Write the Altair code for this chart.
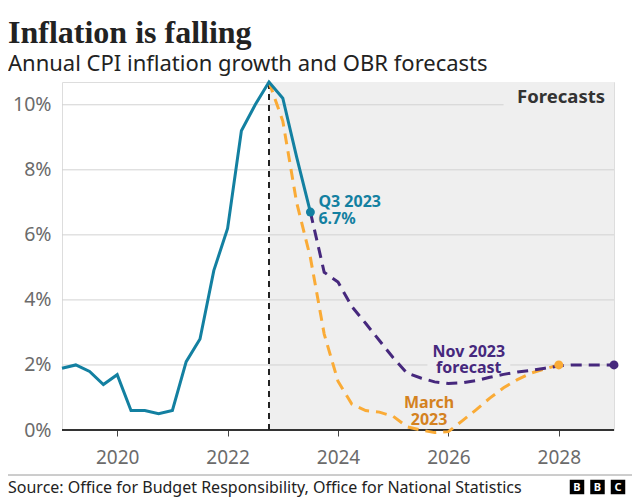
import altair as alt
import pandas as pd

# ---------------- data ----------------
actual_quarters = ["2019 Q1", "2019 Q2", "2019 Q3", "2019 Q4",
                   "2020 Q1", "2020 Q2", "2020 Q3", "2020 Q4",
                   "2021 Q1", "2021 Q2", "2021 Q3", "2021 Q4",
                   "2022 Q1", "2022 Q2", "2022 Q3", "2022 Q4",
                   "2023 Q1", "2023 Q2", "2023 Q3"]
actual_cpi = [1.9, 2.0, 1.8, 1.4,
              1.7, 0.6, 0.6, 0.5,
              0.6, 2.1, 2.8, 4.9,
              6.2, 9.2, 10.0, 10.7,
              10.2, 8.4, 6.7]

march_quarters = ["2022 Q4",
                  "2023 Q1", "2023 Q2", "2023 Q3", "2023 Q4",
                  "2024 Q1", "2024 Q2", "2024 Q3", "2024 Q4",
                  "2025 Q1", "2025 Q2", "2025 Q3", "2025 Q4",
                  "2026 Q1", "2026 Q2", "2026 Q3", "2026 Q4",
                  "2027 Q1", "2027 Q2", "2027 Q3", "2027 Q4",
                  "2028 Q1"]
march_cpi = [10.7,
             9.5, 7.0, 5.3, 2.95,
             1.5, 0.8, 0.6, 0.55,
             0.42, 0.1, 0.0, -0.08,
             -0.05, 0.28, 0.62, 0.98,
             1.3, 1.55, 1.75, 1.88,
             2.0]

nov_quarters = ["2023 Q3", "2023 Q4",
                "2024 Q1", "2024 Q2", "2024 Q3", "2024 Q4",
                "2025 Q1", "2025 Q2", "2025 Q3", "2025 Q4",
                "2026 Q1", "2026 Q2", "2026 Q3", "2026 Q4",
                "2027 Q1", "2027 Q2", "2027 Q3", "2027 Q4",
                "2028 Q1", "2028 Q2", "2028 Q3", "2028 Q4",
                "2029 Q1"]
nov_cpi = [6.7, 4.85,
           4.55, 3.8, 3.28, 2.75,
           2.22, 1.75, 1.6, 1.48,
           1.43, 1.45, 1.52, 1.62,
           1.71, 1.78, 1.83, 1.9,
           1.97, 2.0, 2.0, 2.0,
           2.0]

x_ticks = [2020, 2022, 2024, 2026, 2028]
y_ticks = [0, 2, 4, 6, 8, 10]
grid_values = [2, 4, 6, 8, 10]

title_text = "Inflation is falling"
subtitle_text = "Annual CPI inflation growth and OBR forecasts"
source_text = "Source: Office for Budget Responsibility, Office for National Statistics"
logo_letters = ["B", "B", "C"]


def qx(label):
    y, q = label.split(" Q")
    return int(y) + (int(q) - 1) / 4


X_MIN, X_MAX = 2019, 2029
Y_MAX = 10.7

TEAL = "#1380A1"
PURPLE = "#46287d"
ORANGE = "#FAAB36"
ORANGE_TEXT = "#D4821F"
SHADE = "#efefef"
FONT = "Noto Sans"
LABEL_GREY = "#6b6b6b"

actual = pd.DataFrame({"x": [qx(q) for q in actual_quarters], "y": actual_cpi})
march = pd.DataFrame({"x": [qx(q) for q in march_quarters], "y": march_cpi})
nov = pd.DataFrame({"x": [qx(q) for q in nov_quarters], "y": nov_cpi})

forecast_start = qx(march_quarters[0])

xscale = alt.Scale(domain=[X_MIN, X_MAX], nice=False, zero=False)
yscale = alt.Scale(domain=[0, Y_MAX], nice=False, zero=False)

X = lambda f="x": alt.X(f"{f}:Q", scale=xscale, title=None,
                        axis=alt.Axis(values=x_ticks, format="d", grid=False, domain=False,
                                      ticks=True, tickColor="#444", tickSize=6, tickWidth=1,
                                      labelFontSize=19, labelColor=LABEL_GREY, labelFont=FONT,
                                      labelPadding=12))
Y = lambda f="y": alt.Y(f"{f}:Q", scale=yscale, title=None,
                        axis=alt.Axis(values=y_ticks, grid=False, domain=False, ticks=False,
                                      labelExpr="datum.value + '%'",
                                      labelFontSize=19.5, labelColor=LABEL_GREY, labelFont=FONT,
                                      labelPadding=11))

# forecast shading
shade = alt.Chart(pd.DataFrame({"x": [forecast_start], "x2": [X_MAX], "y": [0], "y2": [Y_MAX]})).mark_rect(
    color=SHADE).encode(x=X(), x2="x2:Q", y=Y(), y2="y2:Q")

grid = alt.Chart(pd.DataFrame({"y": grid_values})).mark_rule(color="#d2d2d2", strokeWidth=1).encode(
    y=Y())

# label backgrounds (hide gridline behind text)
bg = alt.Chart(pd.DataFrame({"x": [2027.0, 2025.62], "x2": [X_MAX, 2027.12],
                             "y": [9.6, 1.85], "y2": [Y_MAX, 2.7]})).mark_rect(color=SHADE).encode(
    x=X(), x2="x2:Q", y=Y(), y2="y2:Q")

zero = alt.Chart(pd.DataFrame({"y": [0]})).mark_rule(color="#333", strokeWidth=2).encode(y=Y())

vline = alt.Chart(pd.DataFrame({"x": [forecast_start], "y": [0], "y2": [Y_MAX]})).mark_rule(
    color="#222", strokeWidth=2, strokeDash=[6, 5]).encode(x=X(), y=Y(), y2="y2:Q")

march_line = alt.Chart(march).mark_line(color=ORANGE, strokeWidth=3, strokeDash=[11, 7]).encode(
    x=X(), y=Y())
nov_line = alt.Chart(nov).mark_line(color=PURPLE, strokeWidth=3, strokeDash=[11, 7]).encode(
    x=X(), y=Y())
actual_line = alt.Chart(actual).mark_line(color=TEAL, strokeWidth=3).encode(x=X(), y=Y())

dots = alt.Chart(pd.DataFrame({
    "x": [nov["x"].iloc[-1], march["x"].iloc[-1], actual["x"].iloc[-1]],
    "y": [nov["y"].iloc[-1], march["y"].iloc[-1], actual["y"].iloc[-1]],
    "c": [PURPLE, ORANGE, TEAL]})).mark_circle(size=80, opacity=1).encode(
    x=X(), y=Y(), color=alt.Color("c:N", scale=None))

forecast_label = alt.Chart(pd.DataFrame({"x": [X_MAX], "y": [Y_MAX], "t": ["Forecasts"]})).mark_text(
    align="right", baseline="alphabetic", dx=-9, dy=21, fontSize=18.5, fontWeight="bold",
    font=FONT, color="#333").encode(x=X(), y=Y(), text="t:N")

q3_label = alt.Chart(pd.DataFrame({"x": [actual["x"].iloc[-1]], "y": [actual["y"].iloc[-1]],
                                   "t": [["Q3 2023", f"{actual_cpi[-1]}%"]]})).mark_text(
    align="left", baseline="alphabetic", dx=8, dy=-5, lineHeight=17, fontSize=16, fontWeight="bold",
    font=FONT, color=TEAL).encode(x=X(), y=Y(), text="t")

nov_label = alt.Chart(pd.DataFrame({"x": [2026.37], "y": [2.0],
                                    "t": [["Nov 2023", "forecast"]]})).mark_text(
    align="center", baseline="alphabetic", dy=-8, lineHeight=16.5, fontSize=16, fontWeight="bold",
    font=FONT, color=PURPLE).encode(x=X(), y=Y(), text="t")

march_label = alt.Chart(pd.DataFrame({"x": [2025.65], "y": [0.0],
                                      "t": [["March", "2023"]]})).mark_text(
    align="center", baseline="alphabetic", dy=-22, lineHeight=16.5, fontSize=16, fontWeight="bold",
    font=FONT, color=ORANGE_TEXT).encode(x=X(), y=Y(), text="t")

# footer
footer_rule = alt.Chart(pd.DataFrame({"a": [0]})).mark_rule(color="#9a9a9a", strokeWidth=1).encode(
    x=alt.value(-54), x2=alt.value(570), y=alt.value(393))
footer_text = alt.Chart(pd.DataFrame({"t": [source_text]})).mark_text(
    align="left", baseline="alphabetic", fontSize=16, font=FONT, color="#222").encode(
    x=alt.value(-54), y=alt.value(411), text="t:N")
logo_df = pd.DataFrame({"letter": logo_letters, "i": list(range(len(logo_letters)))})
logo_df["px"] = 515 + 20.5 * logo_df["i"]
logo_box = alt.Chart(logo_df).mark_square(size=210, color="#000", opacity=1, shape="square").encode(
    x=alt.X("px:Q", scale=None), y=alt.value(405))
logo_txt = alt.Chart(logo_df).mark_text(fontSize=11, fontWeight="bold", font=FONT, color="#fff",
                                        baseline="middle", align="center").encode(
    x=alt.X("px:Q", scale=None), y=alt.value(405.5), text="letter:N")

chart = alt.layer(
    shade, grid, bg, zero, vline, march_line, nov_line, actual_line, dots,
    forecast_label, q3_label, nov_label, march_label,
    footer_rule, footer_text, logo_box, logo_txt
).properties(
    width=552, height=348,
    title=alt.Title(title_text, subtitle=subtitle_text, anchor="start", frame="group", dx=-54,
                    offset=0, font="Liberation Serif", fontSize=32, fontWeight="bold", color="#222",
                    subtitleFont=FONT, subtitleFontSize=22, subtitleColor="#222", subtitlePadding=4),
    autosize=alt.AutoSizeParams(type="none"),
    padding={"left": 54, "top": 74, "right": 18, "bottom": 70},
).configure_view(stroke=None).configure(background="white")

chart.save("out.html", embed_options={"renderer": "svg", "actions": False})
